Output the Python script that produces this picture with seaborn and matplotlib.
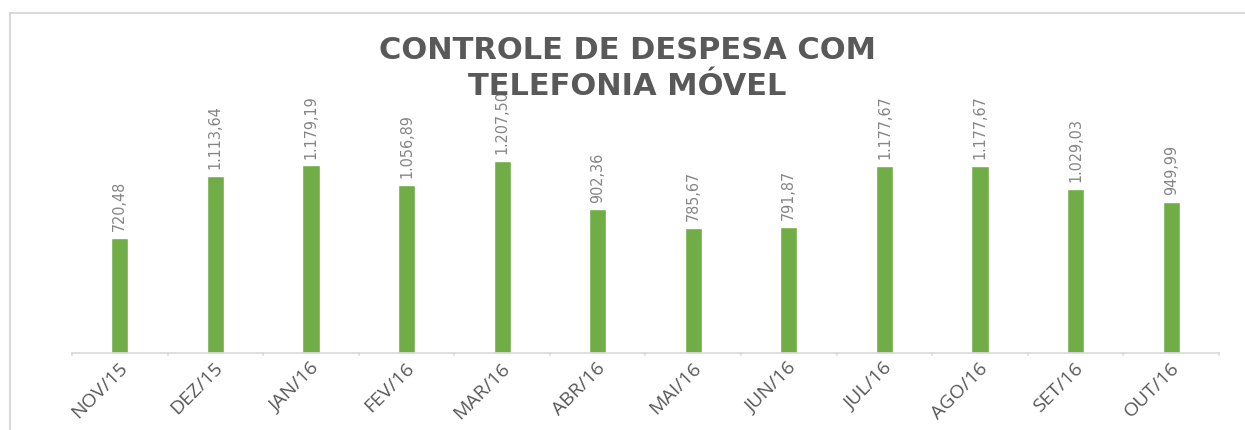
import matplotlib
matplotlib.use("Agg")
import matplotlib.pyplot as plt
import matplotlib.transforms as mtransforms
import seaborn as sns
import pandas as pd
from matplotlib.patches import Rectangle

# --- data ---
meses = ["NOV/15", "DEZ/15", "JAN/16", "FEV/16", "MAR/16", "ABR/16",
         "MAI/16", "JUN/16", "JUL/16", "AGO/16", "SET/16", "OUT/16"]
valores = [720.48, 1113.64, 1179.19, 1056.89, 1207.50, 902.36,
           785.67, 791.87, 1177.67, 1177.67, 1029.03, 949.99]
titulo = "CONTROLE DE DESPESA COM\nTELEFONIA MÓVEL"

df = pd.DataFrame({"Mes": meses, "Valor": valores})


def fmt_br(v):
    # 1234.5 -> 1.234,50
    s = f"{v:,.2f}"
    return s.replace(",", "X").replace(".", ",").replace("X", ".")


sns.set_theme(style="white")
plt.rcParams["font.family"] = ["DejaVu Sans"]

fig = plt.figure(figsize=(12.45, 4.30), dpi=100)
ax = fig.add_axes([72 / 1245, 77 / 430, 1147 / 1245, 323 / 430])

sns.barplot(data=df, x="Mes", y="Valor", color="#70AD47", width=0.18,
            saturation=1, ax=ax)
ax.set_ylim(0, 2031)
ax.set_xlim(-0.5, len(meses) - 0.5)
ax.set_xlabel("")
ax.set_ylabel("")
ax.set_yticks([])

# value labels, rotated, condensed gray
for i, v in enumerate(valores):
    ax.annotate(fmt_br(v), (i, v), xytext=(0, 5), textcoords="offset points",
                rotation=90, ha="center", va="bottom", color="#858585",
                fontsize=11.5, fontstretch="condensed")

# x axis: light gray baseline, ticks between categories
for s in ["top", "right", "left"]:
    ax.spines[s].set_visible(False)
ax.spines["bottom"].set_color("#D9D9D9")
ax.spines["bottom"].set_linewidth(1.2)
ax.set_xticks(range(len(meses)))
ax.set_xticklabels(meses, rotation=45, ha="right", va="center",
                   rotation_mode="anchor", fontsize=14, color="#595959",
                   family=["Open Sans", "DejaVu Sans"])
ax.tick_params(axis="x", length=0, pad=9)
shift = mtransforms.ScaledTranslation(5 / 100, 0, fig.dpi_scale_trans)
for lab in ax.get_xticklabels():
    lab.set_transform(lab.get_transform() + shift)
for b in [x - 0.5 for x in range(len(meses) + 1)]:
    ax.plot([b, b], [0, -12], color="#D9D9D9", lw=1.2, clip_on=False)

fig.text(0.504, 0.84, titulo, ha="center", va="center", fontsize=22,
         fontweight="bold", color="#595959", linespacing=1.3)

# light chart-area border
fig.patches.append(Rectangle((10 / 1245, -0.1), 1.2, (430 - 13) / 430 + 0.1,
                             transform=fig.transFigure, fill=False,
                             edgecolor="#D9D9D9", lw=1.5))

fig.savefig("out.png", dpi=100)
